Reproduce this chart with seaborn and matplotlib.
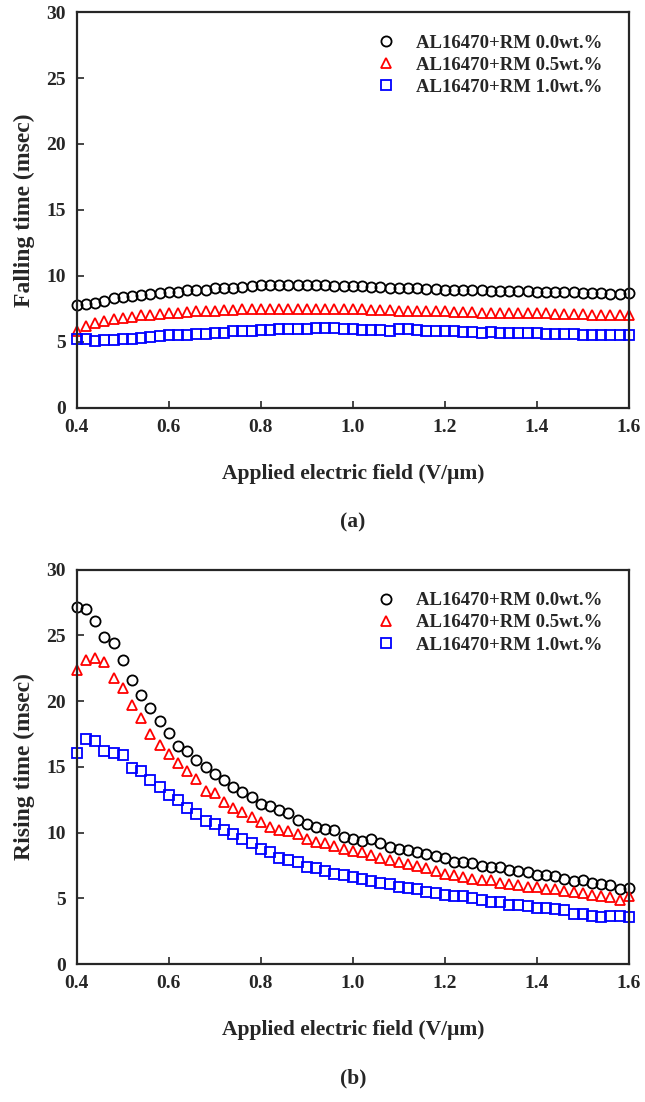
import numpy as np
import pandas as pd
import matplotlib
matplotlib.use("Agg")
import matplotlib.pyplot as plt
import seaborn as sns

# applied field (V/um), 0.4 .. 1.6 in 0.02 steps
field = np.round(np.arange(0.40, 1.6001, 0.02), 2)

labels = ["AL16470+RM 0.0wt.%", "AL16470+RM 0.5wt.%", "AL16470+RM 1.0wt.%"]

fall_00 = [7.8, 7.9, 7.95, 8.1, 8.3, 8.4, 8.45, 8.55, 8.65, 8.7,
           8.8, 8.8, 8.9, 8.95, 8.95, 9.1, 9.1, 9.1, 9.15, 9.25,
           9.3, 9.3, 9.3, 9.3, 9.3, 9.3, 9.3, 9.3, 9.25, 9.25,
           9.2, 9.2, 9.15, 9.15, 9.1, 9.1, 9.05, 9.05, 9.0, 9.0,
           8.95, 8.95, 8.9, 8.9, 8.9, 8.85, 8.85, 8.85, 8.85, 8.85,
           8.8, 8.8, 8.8, 8.75, 8.75, 8.7, 8.7, 8.7, 8.65, 8.65, 8.7]
fall_05 = [5.8, 6.2, 6.4, 6.55, 6.7, 6.8, 6.9, 7.0, 7.05, 7.1,
           7.15, 7.2, 7.25, 7.3, 7.35, 7.35, 7.4, 7.4, 7.45, 7.45,
           7.5, 7.5, 7.5, 7.5, 7.5, 7.5, 7.5, 7.5, 7.5, 7.45,
           7.45, 7.45, 7.4, 7.4, 7.4, 7.35, 7.35, 7.35, 7.3, 7.3,
           7.3, 7.25, 7.25, 7.25, 7.2, 7.2, 7.2, 7.2, 7.15, 7.15,
           7.15, 7.15, 7.1, 7.1, 7.1, 7.1, 7.05, 7.05, 7.05, 7.05, 7.0]
fall_10 = [5.25, 5.2, 5.05, 5.1, 5.15, 5.2, 5.25, 5.3, 5.4, 5.45,
           5.5, 5.55, 5.55, 5.6, 5.6, 5.7, 5.7, 5.8, 5.85, 5.85,
           5.9, 5.9, 5.95, 5.95, 6.0, 6.0, 6.05, 6.05, 6.05, 6.0,
           5.95, 5.9, 5.9, 5.9, 5.85, 5.95, 5.95, 5.9, 5.85, 5.85,
           5.8, 5.8, 5.75, 5.75, 5.7, 5.75, 5.7, 5.7, 5.7, 5.65,
           5.65, 5.6, 5.6, 5.6, 5.6, 5.55, 5.55, 5.55, 5.55, 5.55, 5.5]

rise_00 = [27.2, 27.0, 26.1, 24.9, 24.4, 23.1, 21.6, 20.5, 19.5, 18.5,
           17.6, 16.6, 16.2, 15.5, 15.0, 14.5, 14.0, 13.5, 13.1, 12.7,
           12.2, 12.0, 11.7, 11.5, 11.0, 10.7, 10.4, 10.3, 10.2, 9.7,
           9.5, 9.4, 9.5, 9.2, 8.9, 8.8, 8.7, 8.5, 8.4, 8.2,
           8.1, 7.8, 7.8, 7.7, 7.5, 7.4, 7.4, 7.2, 7.1, 7.0,
           6.8, 6.8, 6.7, 6.5, 6.3, 6.4, 6.2, 6.1, 6.0, 5.7, 5.8]
rise_05 = [22.4, 23.1, 23.3, 23.0, 21.8, 21.0, 19.7, 18.7, 17.5, 16.7,
           16.0, 15.3, 14.7, 14.1, 13.2, 13.0, 12.3, 11.9, 11.6, 11.2,
           10.8, 10.4, 10.2, 10.1, 9.9, 9.5, 9.3, 9.2, 9.0, 8.8,
           8.6, 8.5, 8.3, 8.1, 7.9, 7.8, 7.6, 7.5, 7.3, 7.1,
           6.9, 6.8, 6.6, 6.5, 6.4, 6.4, 6.2, 6.1, 6.0, 5.9,
           5.9, 5.7, 5.7, 5.6, 5.5, 5.4, 5.3, 5.2, 5.1, 4.9, 5.2]
rise_10 = [16.1, 17.1, 17.0, 16.2, 16.1, 15.9, 14.9, 14.7, 14.0, 13.5,
           12.9, 12.5, 11.9, 11.4, 10.9, 10.7, 10.2, 9.9, 9.5, 9.2,
           8.8, 8.5, 8.1, 7.9, 7.8, 7.4, 7.3, 7.1, 6.9, 6.8,
           6.6, 6.5, 6.3, 6.2, 6.1, 5.9, 5.8, 5.7, 5.5, 5.4,
           5.3, 5.2, 5.2, 5.0, 4.9, 4.7, 4.7, 4.5, 4.5, 4.4,
           4.3, 4.3, 4.2, 4.1, 3.8, 3.8, 3.7, 3.6, 3.7, 3.7, 3.6]

colors = ["black", "red", "blue"]
markers = ["o", "^", "s"]

sns.set_style("ticks")
plt.rcParams["font.family"] = ["Liberation Serif", "DejaVu Serif"]
plt.rcParams["font.weight"] = "bold"


def make_frame(series):
    rows = []
    for lab, vals in zip(labels, series):
        rows.append(pd.DataFrame({"field": field, "time": vals, "sample": lab}))
    return pd.concat(rows, ignore_index=True)


def draw_panel(ax, df, ylabel, tag):
    for lab, col, mk in zip(labels, colors, markers):
        sub = df[df["sample"] == lab]
        sns.lineplot(data=sub, x="field", y="time", ax=ax, label=lab,
                     linestyle="none", marker=mk, markersize=7.3,
                     markerfacecolor="none", markeredgecolor=col,
                     markeredgewidth=1.3, color=col, clip_on=False)
    ax.set_xlim(0.4, 1.6)
    ax.set_ylim(0, 30)
    ax.set_xticks([0.4, 0.6, 0.8, 1.0, 1.2, 1.4, 1.6])
    ax.set_xticklabels(["0.4", "0.6", "0.8", "1.0", "1.2", "1.4", "1.6"])
    ax.set_yticks([0, 5, 10, 15, 20, 25, 30])
    ax.tick_params(direction="in", length=5, width=1.2, labelsize=14, pad=8)
    for lbl in ax.get_xticklabels() + ax.get_yticklabels():
        lbl.set_fontweight("bold")
    for sp in ax.spines.values():
        sp.set_linewidth(1.6)
        sp.set_visible(True)
    ax.set_xlabel("Applied electric field (V/\u03bcm)", fontsize=15.5,
                  fontweight="bold", labelpad=20)
    ax.set_ylabel(ylabel, fontsize=17, fontweight="bold", labelpad=8)
    ax.text(0.5, -0.29, tag, transform=ax.transAxes, ha="center", va="center",
            fontsize=15.5, fontweight="bold")
    leg = ax.legend(loc="upper right", bbox_to_anchor=(0.983, 0.986),
                    frameon=False, fontsize=13.5, handlelength=1.0,
                    handletextpad=1.1, labelspacing=0.27)
    for t in leg.get_texts():
        t.set_fontweight("bold")


fig = plt.figure(figsize=(6.45, 11.02), dpi=100)
ax1 = fig.add_axes([0.119, 0.630, 0.856, 0.359])
ax2 = fig.add_axes([0.119, 0.125, 0.856, 0.358])

draw_panel(ax1, make_frame([fall_00, fall_05, fall_10]), "Falling time (msec)", "(a)")
draw_panel(ax2, make_frame([rise_00, rise_05, rise_10]), "Rising time (msec)", "(b)")

fig.savefig("out.png", dpi=100)
